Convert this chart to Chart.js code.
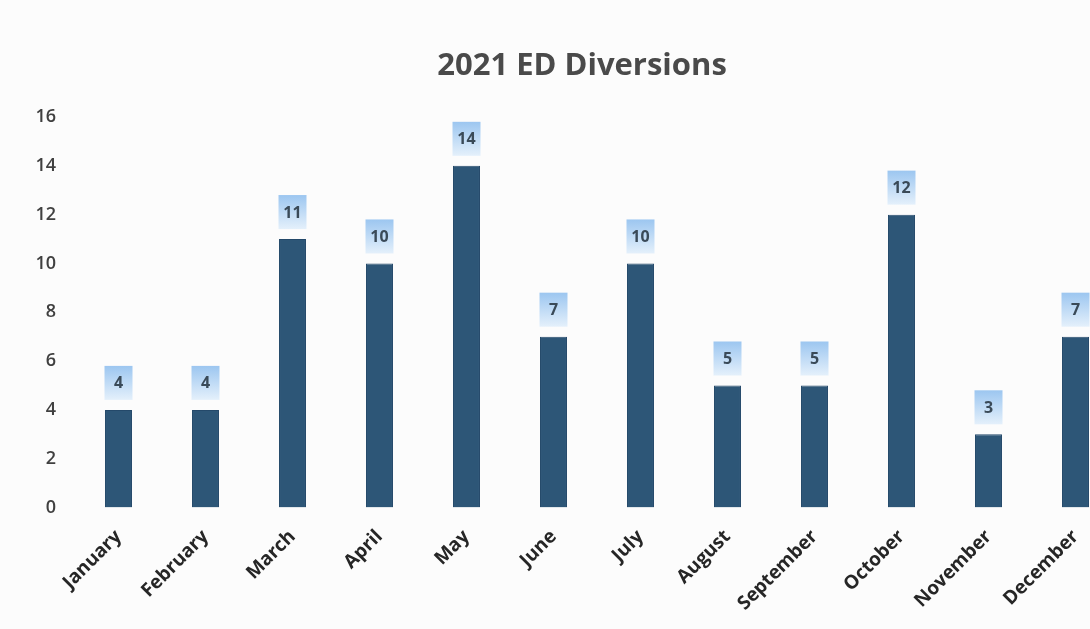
<!DOCTYPE html>
<html>
<head>
<meta charset="utf-8">
<title>2021 ED Diversions</title>
<script src="https://cdn.jsdelivr.net/npm/chart.js@4"></script>
<style>
    html, body {
        margin: 0;
        padding: 0;
        background: #fcfcfc;
        overflow: hidden;
    }
    #wrap {
        width: 1090px;
        height: 629px;
        overflow: hidden;
    }
    #box {
        width: 1164px;
        height: 629px;
    }
</style>
</head>
<body>
<div id="wrap">
    <div id="box"><canvas id="chart"></canvas></div>
</div>
<script>
    // Data
    const chartTitle = '2021 ED Diversions';
    const months = ['January', 'February', 'March', 'April', 'May', 'June',
        'July', 'August', 'September', 'October', 'November', 'December'];
    const diversions = [4, 4, 11, 10, 14, 7, 10, 5, 5, 12, 3, 7];
    const yTicks = [0, 2, 4, 6, 8, 10, 12, 14, 16];

    const FONT = "'Open Sans', 'DejaVu Sans', sans-serif";

    // Title centred on the whole chart (the plot runs off the right edge)
    const centredTitle = {
        id: 'centredTitle',
        afterDraw(chart) {
            const ctx = chart.ctx;
            ctx.save();
            ctx.fillStyle = '#4a4a4a';
            ctx.font = 'bold 31px ' + FONT;
            ctx.textAlign = 'center';
            ctx.textBaseline = 'alphabetic';
            ctx.fillText(chartTitle, chart.width / 2, 75);
            ctx.restore();
        }
    };

    // Value boxes above each bar (light blue gradient callouts)
    const valueBoxes = {
        id: 'valueBoxes',
        afterDatasetsDraw(chart) {
            const ctx = chart.ctx;
            const meta = chart.getDatasetMeta(0);
            ctx.save();
            meta.data.forEach((bar, i) => {
                const w = 28, h = 34, gap = 10;
                const x = bar.x - w / 2;
                const y = bar.y - gap - h;
                const grad = ctx.createLinearGradient(0, y, 0, y + h);
                grad.addColorStop(0, '#9cc6f0');
                grad.addColorStop(1, '#e4f0fb');
                ctx.fillStyle = grad;
                ctx.fillRect(x, y, w, h);
                ctx.fillStyle = '#3a4a58';
                ctx.font = 'bold 16px ' + FONT;
                ctx.textAlign = 'center';
                ctx.textBaseline = 'middle';
                ctx.fillText(String(diversions[i]), bar.x, y + h / 2 + 1);
            });
            ctx.restore();
        }
    };

    new Chart(document.getElementById('chart'), {
        type: 'bar',
        data: {
            labels: months,
            datasets: [{
                data: diversions,
                backgroundColor: '#2d5677',
                borderColor: '#24496a',
                borderWidth: 1,
                barPercentage: 0.31,
                categoryPercentage: 1
            }]
        },
        options: {
            responsive: true,
            maintainAspectRatio: false,
            animation: false,
            layout: {
                padding: { left: 30, right: 45, top: 117, bottom: 4 }
            },
            plugins: {
                legend: { display: false },
                tooltip: { enabled: false },
                title: { display: false }
            },
            scales: {
                x: {
                    grid: { display: false },
                    border: { display: false },
                    afterFit(axis) {
                        // keep rotated labels from pushing the plot inwards
                        axis.paddingLeft = 0;
                        axis.paddingRight = 0;
                    },
                    ticks: {
                        color: '#262626',
                        font: { family: FONT, size: 19, weight: 'bold' },
                        maxRotation: 45,
                        minRotation: 45,
                        padding: 10
                    }
                },
                y: {
                    min: 0,
                    max: 16,
                    grid: { display: false, drawTicks: false },
                    border: { display: false },
                    afterBuildTicks(axis) {
                        axis.ticks = yTicks.map(v => ({ value: v }));
                    },
                    afterFit(axis) {
                        axis.width = 45;
                    },
                    ticks: {
                        color: '#404040',
                        font: { family: FONT, size: 18, weight: '600' },
                        padding: 19
                    }
                }
            }
        },
        plugins: [valueBoxes, centredTitle]
    });
</script>
</body>
</html>
